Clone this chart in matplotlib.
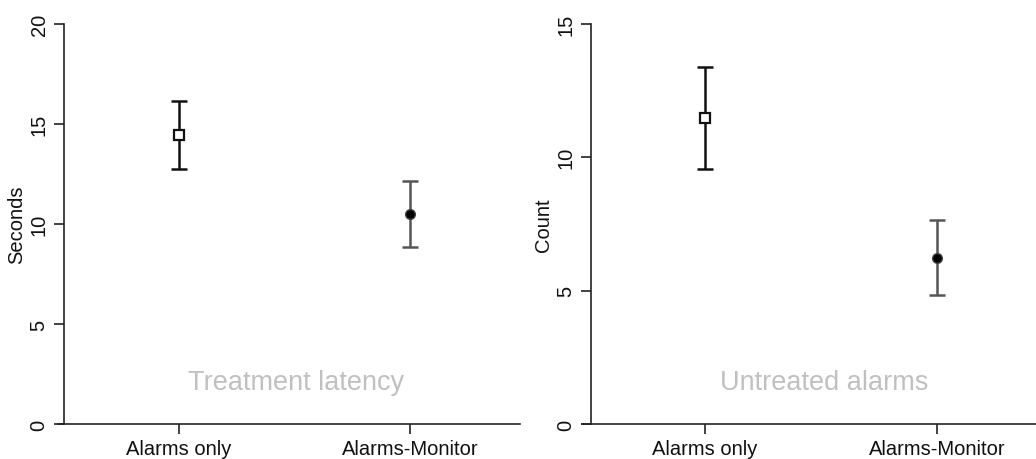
import matplotlib
matplotlib.use("Agg")
import matplotlib.pyplot as plt

categories = ["Alarms only", "Alarms-Monitor"]

latency_mean = [14.45, 10.48]
latency_low = [12.75, 8.83]
latency_high = [16.15, 12.17]

untreated_mean = [11.47, 6.22]
untreated_low = [9.57, 4.85]
untreated_high = [13.4, 7.65]

plt.rcParams['font.family'] = ['Liberation Sans', 'DejaVu Sans']

W, H = 1036, 460
fig = plt.figure(figsize=(W / 100, H / 100), dpi=100)


def make_panel(left_px, right_px, xlim, spine_x, ymax, yticks, ylabel,
               means, lows, highs, note, note_y, note_dx, ylabel_x):
    ax = fig.add_axes([left_px / W, 35 / H, (right_px - left_px) / W, 400 / H])
    x = [1, 2]
    ax.set_xlim(*xlim)
    ax.set_ylim(0, ymax)
    ax.spines['top'].set_visible(False)
    ax.spines['right'].set_visible(False)
    ax.spines['left'].set_position(('data', spine_x))
    for s in ('left', 'bottom'):
        ax.spines[s].set_color('#222222')
        ax.spines[s].set_linewidth(1.2)
    colors = ['#111111', '#555555']
    markers = ['s', 'o']
    for i in range(2):
        err = [[means[i] - lows[i]], [highs[i] - means[i]]]
        ax.errorbar([x[i]], [means[i]], yerr=err, fmt='none',
                    ecolor=colors[i], elinewidth=1.8, capsize=5.5,
                    capthick=1.8, zorder=2)
        if markers[i] == 's':
            ax.plot([x[i]], [means[i]], marker='s', markersize=7,
                    markerfacecolor='white', markeredgecolor='#111111',
                    markeredgewidth=1.6, linestyle='none', zorder=3)
        else:
            ax.plot([x[i]], [means[i]], marker='o', markersize=7,
                    markerfacecolor='#000000', markeredgecolor='#444444',
                    markeredgewidth=1.0, linestyle='none', zorder=3)
    ax.set_xticks(x)
    ax.set_xticklabels(categories, fontsize=14.5)
    ax.set_yticks(yticks)
    ax.set_yticklabels([str(t) for t in yticks], fontsize=14.5, rotation=90,
                       va='center')
    ax.tick_params(axis='both', length=7, width=1.2, color='#222222',
                   labelcolor='#111111')
    ax.tick_params(axis='x', pad=4)
    ax.tick_params(axis='y', pad=4)
    ax.set_ylabel(ylabel, fontsize=14.5, color='#111111')
    ax.yaxis.set_label_coords(ylabel_x, 0.5)
    ax.text((xlim[0] + xlim[1]) / 2 + note_dx, note_y, note, fontsize=19.5,
            color='#c0c0c0', ha='center', va='center')
    ax.patch.set_alpha(0)
    return ax


make_panel(58, 520, (0.4762, 2.476), 0.5022, 20, [0, 5, 10, 15, 20],
           'Seconds', latency_mean, latency_low, latency_high,
           'Treatment latency', 2.1, 0.03, -0.069)
make_panel(582, 1036, (0.4725, 2.424), 0.5099, 15, [0, 5, 10, 15],
           'Count', untreated_mean, untreated_low, untreated_high,
           'Untreated alarms', 1.58, 0.065, -0.064)

fig.savefig('out.png', dpi=100)
